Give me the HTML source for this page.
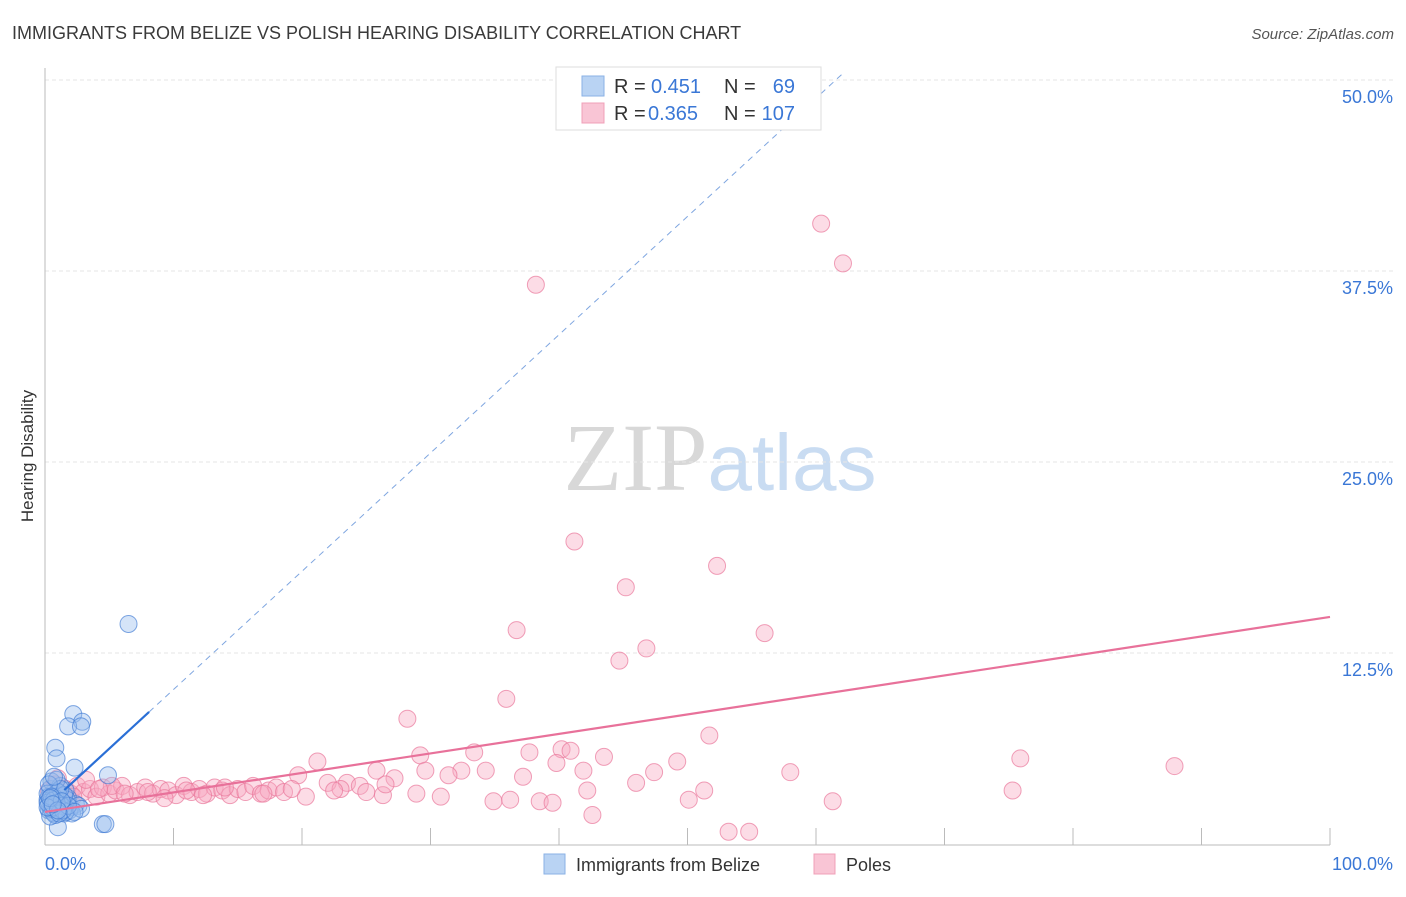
<!DOCTYPE html>
<html><head><meta charset="utf-8"><style>
body{margin:0;background:#fff;font-family:"Liberation Sans",sans-serif}
svg text{font-family:"Liberation Sans",sans-serif}
</style></head><body>
<svg id="chart" width="1406" height="892" viewBox="0 0 1406 892" xmlns="http://www.w3.org/2000/svg">
<text x="12" y="39" font-size="18" fill="#3a3a3a">IMMIGRANTS FROM BELIZE VS POLISH HEARING DISABILITY CORRELATION CHART</text>
<text x="1394" y="39" font-size="15" fill="#555" text-anchor="end" font-style="italic">Source: ZipAtlas.com</text>
<text transform="translate(33,456) rotate(-90)" font-size="17" fill="#333" text-anchor="middle">Hearing Disability</text>
<text x="720" y="490" font-size="96" text-anchor="middle"><tspan fill="#d8d8d8" font-family="Liberation Serif">ZIP</tspan><tspan fill="#c9dcf2" font-size="80">atlas</tspan></text>
<g id="grid"></g><g id="axes"></g><g id="pts"></g><g id="lines"></g>
<g>
<rect x="556" y="67" width="265" height="63" fill="#fff" stroke="#ddd"/>
<rect x="582" y="76" width="22" height="20" fill="#b9d3f3" stroke="#8ab1e6"/>
<rect x="582" y="103" width="22" height="20" fill="#f9c5d5" stroke="#f0a0b8"/>
<text x="614" y="93" font-size="20" fill="#333">R =</text>
<text x="651" y="93" font-size="20" fill="#3a77d6">0.451</text>
<text x="724" y="93" font-size="20" fill="#333">N =</text>
<text x="795" y="93" font-size="20" fill="#3a77d6" text-anchor="end">69</text>
<text x="614" y="120" font-size="20" fill="#333">R =</text>
<text x="648" y="120" font-size="20" fill="#3a77d6">0.365</text>
<text x="724" y="120" font-size="20" fill="#333">N =</text>
<text x="795" y="120" font-size="20" fill="#3a77d6" text-anchor="end">107</text>
</g>
<g>
<rect x="544" y="854" width="21" height="20" fill="#b9d3f3" stroke="#8ab1e6"/>
<text x="576" y="871" font-size="18" fill="#333">Immigrants from Belize</text>
<rect x="814" y="854" width="21" height="20" fill="#f9c5d5" stroke="#f0a0b8"/>
<text x="846" y="871" font-size="18" fill="#333">Poles</text>
</g>
</svg>
<script>
const yTicks=[12.5,25,37.5,50];
const yTickLabels=["12.5%","25.0%","37.5%","50.0%"];
const xTicks=[0,10,20,30,40,50,60,70,80,90,100];
const blueX=[6.5,2.2,2.9,1.8,2.8,0.8,0.9,2.3,4.9,4.5,4.7,1.0,0.3,0.5,0.7,1.2,1.5,1.8,2.0,0.4,0.6,1.1,1.4,0.2,0.9,1.6,2.4,0.3,0.8,1.3,0.5,1.0,1.7,2.6,0.2,0.7,1.2,0.4,1.9,0.6,1.1,0.3,1.5,0.9,2.1,0.5,1.3,0.8,0.2,1.0,1.6,0.4,0.7,2.8,1.2,0.6,0.3,1.4,0.9,0.5,1.8,1.1,0.2,0.7,1.3,2.3,0.4,1.0,0.6];
const blueY=[14.4,8.5,8.0,7.7,7.7,6.3,5.6,5.0,4.5,1.3,1.3,1.1,2.2,2.8,3.4,2.5,2.0,3.0,2.4,3.6,2.1,3.2,2.7,2.9,2.3,3.5,2.6,3.1,1.9,2.2,4.1,2.6,2.9,2.5,3.3,2.0,3.8,2.4,2.2,3.0,2.8,2.6,3.2,4.2,2.0,2.3,2.5,3.0,2.7,3.4,2.1,1.8,2.9,2.3,3.6,2.4,3.9,2.2,2.7,3.1,2.5,2.0,2.4,4.4,2.8,2.1,3.0,2.2,2.6];
const pinkX=[38.2,60.4,62.1,41.2,52.3,45.2,36.7,56.0,46.8,44.7,35.9,28.2,51.7,75.9,87.9,21.2,29.2,33.4,37.7,40.2,40.9,43.5,39.8,49.2,58.0,47.4,41.9,34.3,32.4,29.6,25.8,37.2,46.0,42.2,51.3,75.3,34.9,36.2,38.5,39.5,50.1,61.3,42.6,53.2,54.8,30.8,28.9,26.3,20.3,19.7,27.2,31.4,23.5,
0.3,0.8,1.2,1.6,2.0,2.5,3.0,3.5,4.0,4.5,5.0,5.5,6.0,6.6,7.2,7.8,8.4,9.0,9.6,10.2,10.8,11.4,12.0,12.6,13.2,13.8,14.4,15.0,15.6,16.2,16.8,17.4,18.0,18.6,19.2,22.0,23.0,24.5,25.0,26.5,22.5,17.0,14.0,11.0,8.0,5.2,3.2,1.0,0.5,2.2,4.2,6.2,9.3,12.3];
const pinkY=[36.6,40.6,38.0,19.8,18.2,16.8,14.0,13.8,12.8,12.0,9.5,8.2,7.1,5.6,5.1,5.4,5.8,6.0,6.0,6.2,6.1,5.7,5.3,5.4,4.7,4.7,4.8,4.8,4.8,4.8,4.8,4.4,4.0,3.5,3.5,3.5,2.8,2.9,2.8,2.7,2.9,2.8,1.9,0.8,0.8,3.1,3.3,3.2,3.1,4.5,4.3,4.5,4.0,
3.5,3.9,3.2,3.6,3.3,3.8,3.4,3.6,3.1,3.7,3.3,3.5,3.8,3.2,3.4,3.7,3.3,3.6,3.5,3.2,3.8,3.4,3.6,3.3,3.7,3.5,3.2,3.6,3.4,3.8,3.3,3.5,3.7,3.4,3.6,4.0,3.6,3.8,3.4,3.9,3.5,3.3,3.7,3.5,3.4,3.8,4.2,4.3,2.8,3.1,3.6,3.3,3.0,3.2];
const blueTrend=[2.37,0.774];
const pinkTrend=[2.1,0.1276];
const X0=45,X1=1330,Y0=844,Y1=80;
const sx=v=>X0+(X1-X0)*v/100;
const sy=v=>Y0-(Y0-Y1)*v/50;
const NS="http://www.w3.org/2000/svg";
function mk(tag,attrs,parent){const e=document.createElementNS(NS,tag);for(const k in attrs)e.setAttribute(k,attrs[k]);document.getElementById(parent).appendChild(e);return e;}
yTicks.forEach((t,i)=>{
 const g=mk('line',{x1:X0,x2:1393,y1:sy(t),y2:sy(t),stroke:'#e6e6e6','stroke-dasharray':'4,3'},'grid');
 
 
 const l=mk('text',{x:1393,y:sy(t)+23,'font-size':18,fill:'#3a77d6','text-anchor':'end'},'axes');
 l.textContent=yTickLabels[i];
 
 
});
const ax=mk('line',{x1:X0,x2:X0,y1:68,y2:845,stroke:'#bbb'},'axes');


const bx=mk('line',{x1:X0,x2:X1,y1:845,y2:845,stroke:'#bbb'},'axes');


xTicks.forEach(t=>{
 const k=mk('line',{x1:sx(t),x2:sx(t),y1:828,y2:845,stroke:'#bbb'},'axes');
 
 
});
const xl0=mk('text',{x:45,y:870,'font-size':18,fill:'#3a77d6'},'axes');xl0.textContent='0.0%';


const xl1=mk('text',{x:1393,y:870,'font-size':18,fill:'#3a77d6','text-anchor':'end'},'axes');xl1.textContent='100.0%';


pinkX.forEach((v,i)=>{
 const c=mk('circle',{cx:sx(v),cy:sy(pinkY[i]),r:8.5,fill:'rgba(247,168,192,0.4)',stroke:'rgba(234,120,155,0.7)','stroke-width':1},'pts');
 
 
});
blueX.forEach((v,i)=>{
 const c=mk('circle',{cx:sx(v),cy:sy(blueY[i]),r:8.5,fill:'rgba(150,188,238,0.4)',stroke:'rgba(60,120,210,0.65)','stroke-width':1},'pts');
 
 
});
const bxEnd=(50.5-blueTrend[0])/blueTrend[1];
const d=mk('line',{x1:sx(8.1),y1:sy(blueTrend[0]+blueTrend[1]*8.1),x2:sx(bxEnd),y2:sy(50.5),stroke:'#7fa6e0','stroke-width':1,'stroke-dasharray':'6,5'},'lines');


const b=mk('line',{x1:sx(1.5),y1:sy(blueTrend[0]+blueTrend[1]*1.5),x2:sx(8.1),y2:sy(blueTrend[0]+blueTrend[1]*8.1),stroke:'#2a6fd6','stroke-width':2.2},'lines');


const p=mk('line',{x1:sx(0),y1:sy(pinkTrend[0]),x2:sx(100),y2:sy(pinkTrend[0]+pinkTrend[1]*100),stroke:'#e8719a','stroke-width':2.2},'lines');


</script>
</body></html>
